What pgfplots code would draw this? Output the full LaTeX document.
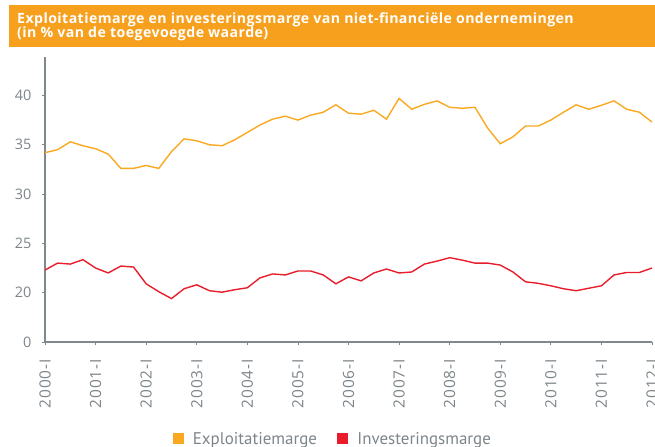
\documentclass[border=0pt]{standalone}
\usepackage{fontspec}
\setmainfont{Open Sans}
\newfontfamily\titlefont[LetterSpace=3]{Open Sans}
\newfontfamily\legendfont{PT Sans}
\newfontfamily\xlabelfont[LetterSpace=6]{Open Sans}
\usepackage{pgfplots}
\pgfplotsset{compat=1.18}
\definecolor{TitleOrange}{RGB}{246,160,30}
\definecolor{LineOrange} {RGB}{250,168,32}
\definecolor{LineRed}    {RGB}{232,28,42}
\definecolor{AxisGray}   {RGB}{128,136,140}
\definecolor{LabelGray}  {RGB}{125,133,138}

% quarter index (0 = 2000-I) versus margin in %
\pgfplotstableread{
q  expl  inv
0  34.2  22.3
1  34.5  23.0
2  35.3  22.9
3  34.9  23.35
4  34.6  22.5
5  34.05 22.0
6  32.6  22.7
7  32.6  22.6
8  32.9  20.9
9  32.6  20.1
10 34.3  19.4
11 35.6  20.4
12 35.4  20.8
13 35.0  20.2
14 34.9  20.05
15 35.5  20.3
16 36.25 20.5
17 37.0  21.5
18 37.6  21.9
19 37.9  21.8
20 37.5  22.2
21 38.0  22.2
22 38.3  21.8
23 39.05 20.9
24 38.2  21.6
25 38.1  21.2
26 38.5  22.0
27 37.6  22.4
28 39.7  22.0
29 38.6  22.1
30 39.1  22.9
31 39.45 23.2
32 38.8  23.55
33 38.7  23.3
34 38.8  23.0
35 36.7  23.0
36 35.1  22.8
37 35.8  22.1
38 36.9  21.1
39 36.9  20.95
40 37.5  20.7
41 38.3  20.4
42 39.05 20.2
43 38.6  20.45
44 39.0  20.7
45 39.45 21.8
46 38.6  22.05
47 38.3  22.05
48 37.3  22.5
}\margins

\begin{document}
\begin{tikzpicture}[x=1bp,y=1bp]
\fill[TitleOrange] (9,400) rectangle (655,442);
\tikzset{titletext/.style={anchor=base west, text=white, inner sep=0pt,
      font=\titlefont\bfseries\fontsize{14.2}{16}\selectfont}}
\node[titletext] at (17,423.5) {Exploitatiemarge en investeringsmarge van niet-financiële ondernemingen};
\node[titletext] at (17,409) {(in \% van de toegevoegde waarde)};

\begin{axis}[
    at={(45bp,105bp)},
    anchor=south west,
    scale only axis,
    width=607bp,
    height=285bp,
    xmin=0, xmax=48,
    ymin=15, ymax=43.9,
    axis lines=left,
    axis line style={-, draw=AxisGray, line width=1.2pt},
    tick style={draw=AxisGray, line width=0.8pt},
    tick align=outside,
    major tick length=3bp,
    xtick={0,4,...,48},
    xticklabels={2000-I,2001-I,2002-I,2003-I,2004-I,2005-I,2006-I,2007-I,2008-I,2009-I,2010-I,2011-I,2012-I},
    x tick label style={rotate=90, anchor=east, inner xsep=0pt,
        font=\xlabelfont\fontsize{15.5}{17}\selectfont},
    xticklabel shift=14bp,
    ytick={15,20,25,30,35,40},
    yticklabels={0,20,25,30,35,40},
    yticklabel shift=7bp,
    y tick label style={font=\fontsize{14.5}{16}\selectfont},
    tick label style={text=LabelGray},
    legend style={
        at={(0.474,-0.34)},
        anchor=center,
        draw=none,
        fill=none,
        font=\legendfont\fontsize{17}{19}\selectfont,
        text=LabelGray,
        legend columns=2,
        column sep=7bp,
        /tikz/every even column/.append style={column sep=18bp},
    },
    legend image code/.code={\fill[#1] (0bp,-4.5bp) rectangle (10bp,5bp);},
]
\addplot[LineOrange, line width=1.4pt] table[x=q, y=expl] {\margins};
\addlegendentry{Exploitatiemarge}
\addplot[LineRed, line width=1.4pt] table[x=q, y=inv] {\margins};
\addlegendentry{Investeringsmarge}
\end{axis}
\pgfresetboundingbox
\path[use as bounding box] (0,0) rectangle (655,447);
\end{tikzpicture}
\end{document}
